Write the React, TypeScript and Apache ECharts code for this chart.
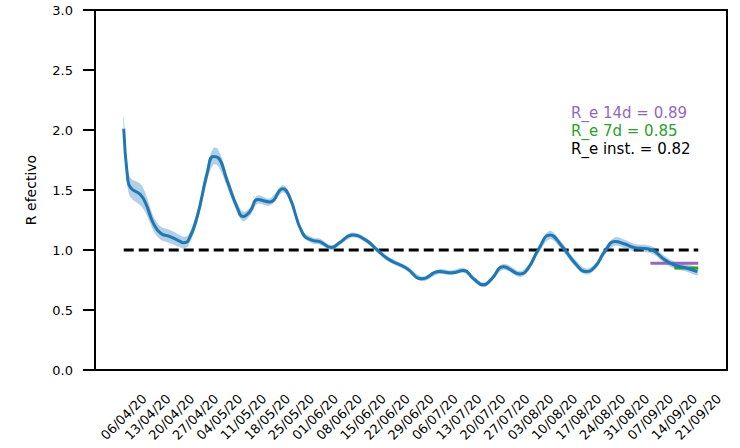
import React, { useEffect, useRef } from "react";
import * as echarts from "echarts";

// x positions in days since 06/04/20
const days = [0, 1.1, 2.0, 4.9, 6.4, 8.7, 10.8, 13.7, 16.6, 17.4, 18.9, 21.5, 24.4, 26.2, 27.6, 30.2, 33.1, 34.9, 36.9, 39.2, 42.7, 46.5, 48.5, 52.3, 55.2, 57.3, 60.7, 63.1, 66.9, 70.9, 74.1, 77.6, 82.6, 87.2, 92.2, 95.9, 99.4, 102.3, 105.2, 107.6, 111, 115.9, 118.3, 121.2, 124.6, 127.9, 132, 135.2, 137.8, 140.7, 143.6, 146.5, 149.4, 153.2, 155.2, 158.1, 161, 164.5, 167.7];
const rValues = [2.01, 1.61, 1.52, 1.46, 1.39, 1.22, 1.14, 1.11, 1.07, 1.06, 1.08, 1.28, 1.64, 1.78, 1.77, 1.58, 1.36, 1.28, 1.32, 1.42, 1.40, 1.51, 1.44, 1.14, 1.08, 1.07, 1.02, 1.06, 1.125, 1.08, 1.0, 0.92, 0.85, 0.76, 0.82, 0.81, 0.83, 0.76, 0.71, 0.76, 0.86, 0.80, 0.85, 1.0, 1.125, 1.04, 0.89, 0.82, 0.86, 0.99, 1.07, 1.05, 1.02, 1.01, 0.99, 0.92, 0.875, 0.85, 0.82];
const bandHalf = [0.1, 0.08, 0.08, 0.09, 0.08, 0.06, 0.055, 0.055, 0.05, 0.05, 0.045, 0.05, 0.06, 0.07, 0.07, 0.05, 0.04, 0.04, 0.035, 0.035, 0.03, 0.03, 0.03, 0.025, 0.025, 0.025, 0.02, 0.02, 0.02, 0.02, 0.02, 0.02, 0.02, 0.02, 0.02, 0.02, 0.02, 0.02, 0.02, 0.02, 0.025, 0.025, 0.025, 0.03, 0.035, 0.03, 0.03, 0.025, 0.025, 0.03, 0.035, 0.035, 0.03, 0.03, 0.03, 0.03, 0.03, 0.03, 0.03];
const dateLabels = ["06/04/20", "13/04/20", "20/04/20", "27/04/20", "04/05/20", "11/05/20", "18/05/20", "25/05/20", "01/06/20", "08/06/20", "15/06/20", "22/06/20", "29/06/20", "06/07/20", "13/07/20", "20/07/20", "27/07/20", "03/08/20", "10/08/20", "17/08/20", "24/08/20", "31/08/20", "07/09/20", "14/09/20", "21/09/20"];
const yTicks = [0, 0.5, 1, 1.5, 2, 2.5, 3];
const threshold = [[0, 1], [168, 1]];
const r14 = [[154, 0.89], [168, 0.89]];
const r7 = [[161, 0.85], [168, 0.85]];
const annotations = [
  { text: "R_e 14d = 0.89", color: "#9467bd" },
  { text: "R_e 7d = 0.85", color: "#2ca02c" },
  { text: "R_e inst. = 0.82", color: "#000000" },
];

const FONT = "DejaVu Sans";

export default function App() {
  const ref = useRef<HTMLDivElement>(null);
  useEffect(() => {
    document.body.style.margin = "0";
    const chart = echarts.init(ref.current!, null, { renderer: "svg" });
    const upper = days.map((d, i) => [d, rValues[i] + bandHalf[i]]);
    const lower = days.map((d, i) => [d, rValues[i] - bandHalf[i]]);
    const main = days.map((d, i) => [d, rValues[i]]);
    chart.setOption({
      animation: false,
      textStyle: { fontFamily: FONT },
      grid: {
        left: 95,
        right: 13,
        top: 10,
        bottom: 78,
        show: true,
        borderColor: "#000",
        borderWidth: 2,
      },
      xAxis: {
        type: "value",
        min: -8.4,
        max: 176.4,
        splitLine: { show: false },
        axisLine: { show: false },
        axisTick: { show: false },
        axisLabel: {
          customValues: dateLabels.map((_, i) => i * 7),
          formatter: (v: number) => dateLabels[Math.round(v / 7)] ?? "",
          rotate: 45,
          align: "center",
          verticalAlign: "middle",
          margin: 47,
          fontSize: 13,
          color: "#000",
          fontFamily: FONT,
        },
      },
      yAxis: {
        type: "value",
        min: 0,
        max: 3,
        interval: 0.5,
        name: "R efectivo",
        nameLocation: "middle",
        nameRotate: 90,
        nameGap: 57,
        nameTextStyle: { fontSize: 14, color: "#000", fontFamily: FONT },
        splitLine: { show: false },
        axisLine: { show: true, onZero: false, lineStyle: { color: "#000", width: 2 } },
        axisTick: { show: true, length: 12, lineStyle: { color: "#000", width: 2 } },
        axisLabel: {
          margin: 22,
          fontSize: 13,
          color: "#000",
          fontFamily: FONT,
          formatter: (v: number) => (yTicks.includes(v) ? v.toFixed(1) : ""),
        },
      },
      series: [
        {
          type: "line",
          data: threshold,
          symbol: "none",
          silent: true,
          lineStyle: { color: "#000", width: 3, type: [10, 5] },
          z: 1,
        },
        {
          type: "custom",
          data: [[0, 1]],
          silent: true,
          z: 2,
          renderItem: (params: any, api: any) => {
            const pts = upper
              .map((p) => api.coord(p))
              .concat(lower.slice().reverse().map((p) => api.coord(p)));
            return {
              type: "polygon",
              shape: { points: pts, smooth: 0.35 },
              style: { fill: "#1f77b4", opacity: 0.35 },
            };
          },
        },
        {
          type: "line",
          data: r14,
          symbol: "none",
          lineStyle: { color: "#9467bd", width: 3 },
          z: 3,
        },
        {
          type: "line",
          data: r7,
          symbol: "none",
          lineStyle: { color: "#2ca02c", width: 3 },
          z: 3,
        },
        {
          type: "line",
          data: main,
          smooth: true,
          symbol: "none",
          lineStyle: { color: "#1f77b4", width: 3 },
          z: 4,
        },
      ],
      graphic: annotations.map((a, i) => ({
        type: "text",
        left: 571,
        top: 105 + i * 18,
        style: { text: a.text, fill: a.color, fontSize: 15, fontFamily: FONT },
      })),
    });
    return () => chart.dispose();
  }, []);
  return <div ref={ref} style={{ width: 740, height: 448 }} />;
}
